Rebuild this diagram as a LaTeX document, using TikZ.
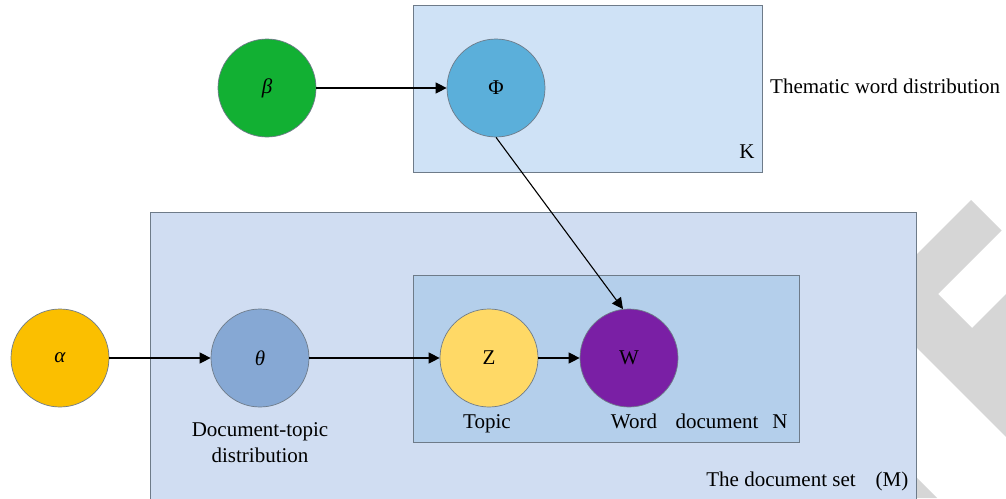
\documentclass[tikz,border=0pt]{standalone}
\usepackage{fontspec}
\setmainfont{Liberation Serif}
\usetikzlibrary{arrows.meta}
\definecolor{plateK}{HTML}{CFE2F6}
\definecolor{plateM}{HTML}{D0DDF2}
\definecolor{plateN}{HTML}{B4CFEB}
\definecolor{plateline}{HTML}{6E7B89}
\definecolor{cbeta}{HTML}{12B033}
\definecolor{cphi}{HTML}{5BAFDA}
\definecolor{calpha}{HTML}{FBBF00}
\definecolor{ctheta}{HTML}{86A8D4}
\definecolor{cz}{HTML}{FFD966}
\definecolor{cw}{HTML}{7A1FA5}
\definecolor{wm}{HTML}{D6D6D6}
\tikzset{
  plate/.style={draw=plateline, line width=0.9pt},
  var/.style={circle, draw=plateline, line width=0.7pt, minimum size=98pt, inner sep=0pt, font=\fontsize{21}{24}\selectfont},
  lbl/.style={anchor=base, inner sep=0pt, font=\fontsize{21}{24}\selectfont},
  edge/.style={line width=1.1pt, -{Triangle[length=11pt,width=11pt]}}
}
\begin{document}
\begin{tikzpicture}[x=1pt,y=-1pt]
\useasboundingbox (0,0) rectangle (1006,498);
% watermark
\fill[wm] (971,200) -- (1001.5,230.5) -- (938,294) -- (972,328) -- (1006,294) -- (1006,437) -- (900,331) -- (900,271) -- cycle;
\fill[wm] (900,461) -- (937,498) -- (900,498) -- cycle;
% plates
\draw[plate, fill=plateK] (413,5) rectangle (762,172);
\draw[plate, fill=plateM] (150,212) rectangle (916,505);
\draw[plate, fill=plateN] (413,275) rectangle (799,442);
% variables
\node[var, fill=cbeta] (beta) at (267,88) {\textit{β}};
\node[var, fill=cphi] (phi) at (496,88) {Φ};
\node[var, fill=calpha] (alpha) at (60,358) {\textit{α}};
\node[var, fill=ctheta] (theta) at (260,358) {\textit{θ}};
\node[var, fill=cz] (z) at (489,358) {Z};
\node[var, fill=cw] (w) at (629,358) {W};
% edges
\draw[edge] (beta) -- (phi);
\draw[edge] (phi.south) -- (w.97);
\draw[edge] (alpha) -- (theta);
\draw[edge] (theta) -- (z);
\draw[edge] (z) -- (w);
% labels
\node[lbl, anchor=base west] (thematic) at (770,93) {Thematic word distribution};
\node[lbl] (k) at (747,158) {K};
\node[lbl] (topic) at (487,428) {Topic};
\node[lbl] (word) at (634,428) {Word};
\node[lbl] (doc) at (717,428) {document};
\node[lbl] (n) at (780,428) {N};
\node[lbl] (dt1) at (260,436) {Document-topic};
\node[lbl] (dt2) at (260,462) {distribution};
\node[lbl] (dset) at (781,486) {The document set};
\node[lbl] (m) at (892,486) {(M)};
\end{tikzpicture}
\end{document}
